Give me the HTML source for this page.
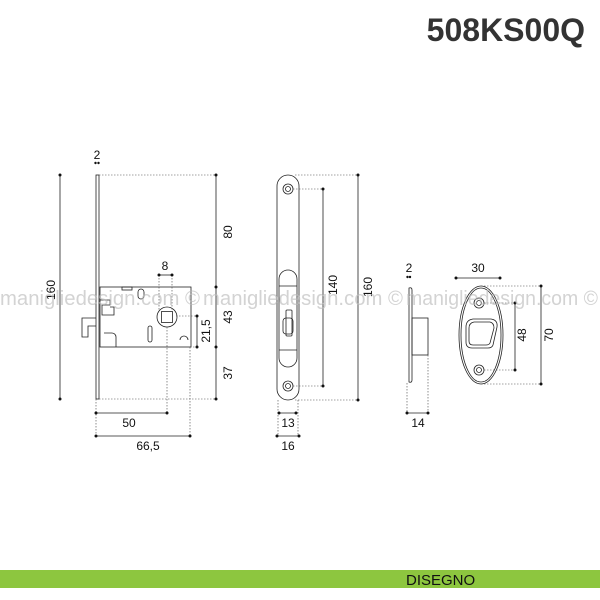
<!DOCTYPE html>
<html><head><style>
html,body{margin:0;padding:0;background:#fff;}
svg{display:block}
text{font-family:"Liberation Sans",sans-serif;}
</style></head><body>
<svg width="600" height="600" viewBox="0 0 600 600" xmlns="http://www.w3.org/2000/svg">
<text x="585" y="41" text-anchor="end" font-size="32" font-weight="bold" fill="#333">508KS00Q</text>
<rect x="0" y="570" width="600" height="18" fill="#8dc63f"/>
<text x="406" y="585" font-size="15" fill="#111">DISEGNO</text>

<g fill="none" stroke="#222" stroke-width="0.8">
<rect x="96" y="175" width="3" height="224"/>
<rect x="100" y="287" width="91" height="60"/>
<path d="M96 318 H82 V337 H88 V326 H96"/>
<circle cx="167" cy="317" r="10"/>
<rect x="161.5" y="311.5" width="11" height="11"/>
<rect x="138" y="289" width="6" height="10" rx="3"/>
<rect x="148" y="326" width="4" height="16" rx="2"/>
<path d="M100 300 h10 v5 h-8 v10 h12 v-8 h-4"/>
<path d="M180 340 a4 4 0 0 1 8 0"/>
<rect x="122" y="287" width="10" height="3"/>
<path d="M104 333 h8 a4 4 0 0 1 4 4 v10"/>
</g>
<g stroke="#444" stroke-width="0.6" stroke-dasharray="1.5 1.5" fill="none">
<line x1="99" y1="175" x2="216" y2="175"/>
<line x1="99" y1="399" x2="216" y2="399"/>
<line x1="176" y1="316" x2="197" y2="316"/>
<line x1="167" y1="327" x2="167" y2="413"/>
<line x1="159" y1="275" x2="159" y2="310"/>
<line x1="172" y1="275" x2="172" y2="310"/>
<line x1="190" y1="347" x2="197" y2="347"/>
<line x1="96" y1="399" x2="96" y2="436"/>
<line x1="190" y1="347" x2="190" y2="436"/>
</g>
<g stroke="#222" stroke-width="0.8">
<line x1="60" y1="175" x2="60" y2="399"/>
<line x1="216" y1="175" x2="216" y2="399"/>
<line x1="159" y1="275" x2="172" y2="275"/>
<line x1="197" y1="316" x2="197" y2="347"/>
<line x1="96" y1="413" x2="167" y2="413"/>
<line x1="96" y1="436" x2="190" y2="436"/>
</g>
<g fill="#111">
<circle cx="60" cy="175" r="1.5"/><circle cx="60" cy="399" r="1.5"/>
<circle cx="216" cy="175" r="1.5"/><circle cx="216" cy="287" r="1.5"/><circle cx="216" cy="347" r="1.5"/><circle cx="216" cy="399" r="1.5"/>
<circle cx="159" cy="275" r="1.5"/><circle cx="172" cy="275" r="1.5"/>
<circle cx="197" cy="316" r="1.5"/><circle cx="197" cy="347" r="1.5"/>
<circle cx="96" cy="413" r="1.5"/><circle cx="167" cy="413" r="1.5"/>
<circle cx="96" cy="436" r="1.5"/><circle cx="190" cy="436" r="1.5"/>
<circle cx="95.5" cy="163" r="1.2"/><circle cx="98.5" cy="163" r="1.2"/>
</g>
<g font-size="12" fill="#111">
<text x="97" y="159" text-anchor="middle">2</text>
<text x="165" y="270" text-anchor="middle">8</text>
<text x="129" y="427" text-anchor="middle">50</text>
<text x="148" y="450" text-anchor="middle">66,5</text>
<text transform="translate(55,290) rotate(-90)" text-anchor="middle">160</text>
<text transform="translate(232,232) rotate(-90)" text-anchor="middle">80</text>
<text transform="translate(232,317) rotate(-90)" text-anchor="middle">43</text>
<text transform="translate(232,373) rotate(-90)" text-anchor="middle">37</text>
<text transform="translate(210,331) rotate(-90)" text-anchor="middle">21,5</text>
</g>

<g fill="none" stroke="#222" stroke-width="0.8">
<rect x="277" y="175" width="22" height="225" rx="11"/>
<circle cx="288" cy="189" r="5"/><circle cx="288" cy="189" r="2.5"/>
<circle cx="288" cy="386" r="5"/><circle cx="288" cy="386" r="2.5"/>
<rect x="279" y="270" width="18" height="97" rx="9"/>
<line x1="279" y1="286" x2="297" y2="286"/>
<line x1="279" y1="350" x2="297" y2="350"/>
<rect x="283" y="318" width="10" height="16" rx="3"/>
<rect x="286" y="310" width="6" height="26" rx="1"/>
</g>
<g stroke="#444" stroke-width="0.6" stroke-dasharray="1.5 1.5">
<line x1="295" y1="175" x2="358" y2="175"/>
<line x1="295" y1="400" x2="358" y2="400"/>
<line x1="293" y1="189" x2="323" y2="189"/>
<line x1="293" y1="386" x2="323" y2="386"/>
<line x1="278" y1="400" x2="278" y2="436"/>
<line x1="298" y1="400" x2="298" y2="436"/>
</g>
<g stroke="#222" stroke-width="0.8">
<line x1="323" y1="189" x2="323" y2="386"/>
<line x1="358" y1="175" x2="358" y2="400"/>
<line x1="279" y1="413" x2="296" y2="413"/>
<line x1="277" y1="436" x2="299" y2="436"/>
</g>
<g fill="#111">
<circle cx="323" cy="189" r="1.5"/><circle cx="323" cy="386" r="1.5"/>
<circle cx="358" cy="175" r="1.5"/><circle cx="358" cy="400" r="1.5"/>
<circle cx="279" cy="413" r="1.5"/><circle cx="296" cy="413" r="1.5"/>
<circle cx="277" cy="436" r="1.5"/><circle cx="299" cy="436" r="1.5"/>
</g>
<g font-size="12" fill="#111">
<text x="288" y="427" text-anchor="middle">13</text>
<text x="288" y="450" text-anchor="middle">16</text>
<text transform="translate(337,285) rotate(-90)" text-anchor="middle">140</text>
<text transform="translate(372,287) rotate(-90)" text-anchor="middle">160</text>
</g>

<g fill="none" stroke="#222" stroke-width="0.8">
<path d="M409 288 Q412 287 412 290 V380 Q412 383 409 382 Z"/>
<rect x="412" y="318" width="16" height="37"/>
<ellipse cx="481" cy="335" rx="22" ry="49"/>
<ellipse cx="481" cy="335" rx="20" ry="47"/>
<path d="M466 327 Q466 320 473 319 H491 Q498 320 497 327 L493 345 Q492 348 488 348 H472 Q466 348 466 342 Z"/>
<path d="M469 328 Q469 323 474 322 H490 Q494 323 494 328 L490 343 Q489 345 486 345 H473 Q469 345 469 341 Z"/>
<circle cx="479" cy="303" r="5"/><circle cx="479" cy="303" r="2.5"/>
<circle cx="479" cy="370" r="5"/><circle cx="479" cy="370" r="2.5"/>
</g>
<g stroke="#444" stroke-width="0.6" stroke-dasharray="1.5 1.5">
<line x1="481" y1="286" x2="541" y2="286"/>
<line x1="481" y1="384" x2="541" y2="384"/>
<line x1="484" y1="303" x2="515" y2="303"/>
<line x1="484" y1="370" x2="515" y2="370"/>
<line x1="407" y1="383" x2="407" y2="413"/>
<line x1="428" y1="355" x2="428" y2="413"/>
</g>
<g stroke="#222" stroke-width="0.8">
<line x1="456" y1="278" x2="500" y2="278"/>
<line x1="515" y1="303" x2="515" y2="370"/>
<line x1="541" y1="286" x2="541" y2="384"/>
<line x1="407" y1="413" x2="428" y2="413"/>
</g>
<g fill="#111">
<circle cx="456" cy="278" r="1.5"/><circle cx="500" cy="278" r="1.5"/>
<circle cx="515" cy="303" r="1.5"/><circle cx="515" cy="370" r="1.5"/>
<circle cx="541" cy="286" r="1.5"/><circle cx="541" cy="384" r="1.5"/>
<circle cx="407" cy="413" r="1.5"/><circle cx="428" cy="413" r="1.5"/>
<circle cx="407.5" cy="277" r="1.2"/><circle cx="410" cy="277" r="1.2"/>
</g>
<g font-size="12" fill="#111">
<text x="409" y="272" text-anchor="middle">2</text>
<text x="478" y="272" text-anchor="middle">30</text>
<text x="418" y="427" text-anchor="middle">14</text>
<text transform="translate(526,335) rotate(-90)" text-anchor="middle">48</text>
<text transform="translate(553,335) rotate(-90)" text-anchor="middle">70</text>
</g>

<g font-size="20" fill="#bbb" fill-opacity="0.65">
<text x="0" y="305" textLength="200" lengthAdjust="spacingAndGlyphs">manigliedesign.com ©</text>
<text x="203" y="305" textLength="200" lengthAdjust="spacingAndGlyphs">manigliedesign.com ©</text>
<text x="406" y="305" textLength="192" lengthAdjust="spacingAndGlyphs">manigliedesign.com ©</text>
</g>
</svg>
</body></html>
